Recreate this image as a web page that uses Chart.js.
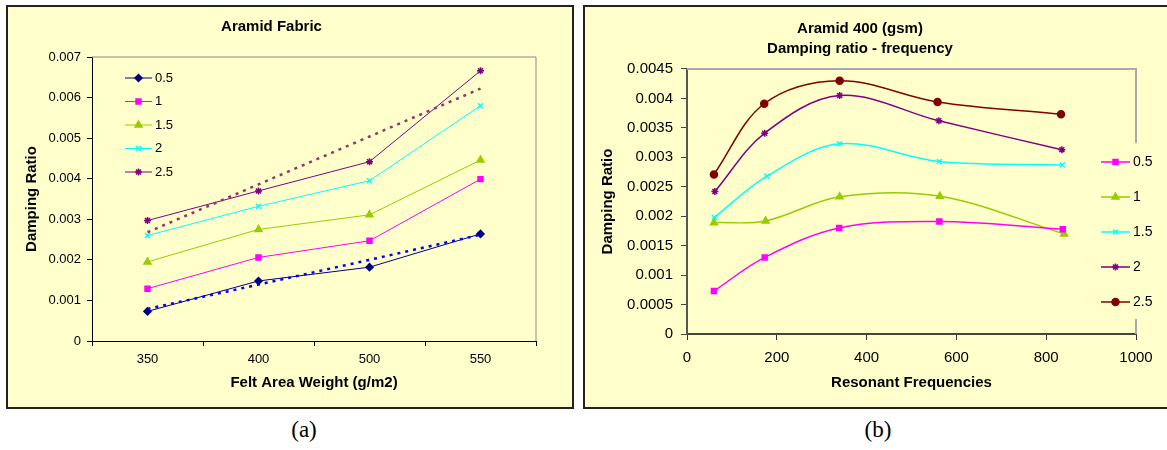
<!DOCTYPE html>
<html>
<head>
<meta charset="utf-8">
<script src="https://cdn.jsdelivr.net/npm/chart.js@4.4.1/dist/chart.umd.min.js"></script>
<style>
  body { margin: 0; background: #fff; width: 1167px; height: 450px; overflow: hidden; position: relative; }
  .panel { position: absolute; top: 5px; height: 404px; box-sizing: border-box; border: 2px solid #222; background: #FFFFCC; }
  canvas { position: absolute; }
  .cap { position: absolute; top: 417px; font-family: 'Liberation Serif', serif; font-size: 23px; width: 60px; text-align: center; }
</style>
</head>
<body>
<div class="panel" style="left:6px; width:568px;"></div>
<div class="panel" style="left:583px; width:600px;"></div>
<canvas id="fabricChart" width="566" height="403" style="left:7px; top:5px;"></canvas>
<canvas id="freqChart" width="583" height="403" style="left:584px; top:5px;"></canvas>
<div class="cap" style="left:274px;">(a)</div>
<div class="cap" style="left:848px;">(b)</div>
<script>
// (a) damping ratio vs felt area weight
const weights = ['350', '400', '500', '550'];
const fab05 = [0.00073, 0.00148, 0.00182, 0.00264];
const fab1 = [0.00129, 0.00206, 0.00247, 0.00399];
const fab15 = [0.00195, 0.00275, 0.00311, 0.00446];
const fab2 = [0.00260, 0.00332, 0.00395, 0.00580];
const fab25 = [0.00297, 0.00370, 0.00442, 0.00666];
// dotted trend lines
const trend05 = [0.00079, 0.00139, 0.00200, 0.00262];
const trend25 = [0.00268, 0.00386, 0.00504, 0.00622];

// (b) damping ratio vs resonant frequency
const freq05 = [60, 173, 339, 562, 837];
const damp05 = [0.00073, 0.00130, 0.00180, 0.00191, 0.00178];
const freq1 = [60, 175, 340, 563, 840];
const damp1 = [0.00189, 0.00192, 0.00233, 0.00234, 0.00170];
const freq15 = [61, 178, 340, 562, 836];
const damp15 = [0.00198, 0.00268, 0.00323, 0.00293, 0.00287];
const freq2 = [62, 173, 340, 561, 835];
const damp2 = [0.00242, 0.00341, 0.00405, 0.00362, 0.00313];
const freq25 = [60, 172, 340, 558, 833];
const damp25 = [0.00271, 0.00391, 0.00430, 0.00394, 0.00373];

Chart.defaults.font.family = "'Liberation Sans', Arial, sans-serif";
Chart.defaults.color = '#000';
Chart.defaults.animation = false;

const bg = '#FFFFCC';
const navy = '#000080', magenta = '#FF00FF', lime = '#99CC00', cyan = '#00FFFF', purple = '#800080', darkRed = '#800000';

function toPairs(xs, ys) {
    return xs.map((x, i) => ({ x: x, y: ys[i] }));
}

function fmtTick(v) {
    return v === 0 ? '0' : String(Number(v.toFixed(5)));
}

// grey border on top and right of the plot area, like Excel
function plotBorder(color, width) {
    return {
        id: 'plotBorder',
        beforeDatasetsDraw(chart) {
            const a = chart.chartArea, ctx = chart.ctx;
            ctx.save();
            ctx.strokeStyle = color;
            ctx.lineWidth = width;
            ctx.beginPath();
            ctx.moveTo(a.left, a.top);
            ctx.lineTo(a.right, a.top);
            ctx.lineTo(a.right, a.bottom);
            ctx.stroke();
            ctx.restore();
        }
    };
}

// hand drawn legend so it can sit where Excel put it
function legendBox(o) {
    return {
        id: 'legendBox',
        afterDraw(chart) {
            const ctx = chart.ctx;
            ctx.save();
            if (o.cover) {
                ctx.fillStyle = bg;
                ctx.fillRect(o.cover[0], o.cover[1], o.cover[2], o.cover[3]);
            }
            let row = 0;
            chart.data.datasets.forEach(ds => {
                if (ds.noLegend) return;
                const y = o.y + row * o.dy;
                ctx.strokeStyle = ds.borderColor;
                ctx.lineWidth = ds.borderWidth;
                ctx.setLineDash([]);
                ctx.beginPath();
                ctx.moveTo(o.x, y);
                ctx.lineTo(o.x + o.len, y);
                ctx.stroke();
                ctx.fillStyle = ds.pointBackgroundColor;
                ctx.strokeStyle = ds.pointBorderColor;
                ctx.lineWidth = ds.pointBorderWidth || 1;
                Chart.helpers.drawPoint(ctx, { pointStyle: ds.pointStyle, radius: ds.pointRadius, rotation: 0, borderWidth: ds.pointBorderWidth || 1 }, o.x + o.len / 2, y);
                ctx.fillStyle = '#000';
                ctx.font = o.size + "px 'Liberation Sans', Arial, sans-serif";
                ctx.textBaseline = 'middle';
                ctx.textAlign = 'left';
                ctx.fillText(ds.label, o.x + o.len + 3, y);
                row++;
            });
            ctx.restore();
        }
    };
}

function series(label, data, color, style, radius, width) {
    return {
        label: label,
        data: data,
        borderColor: color,
        backgroundColor: color,
        borderWidth: width,
        pointStyle: style,
        pointRadius: radius,
        pointBackgroundColor: color,
        pointBorderColor: color,
        pointBorderWidth: 1.5,
        fill: false
    };
}

function trend(data, color) {
    return {
        label: 'trend',
        data: data,
        borderColor: color,
        borderWidth: 2.5,
        borderDash: [3, 5],
        pointRadius: 0,
        fill: false,
        noLegend: true
    };
}

const ctxFabric = document.getElementById('fabricChart').getContext('2d');
const fabricChart = new Chart(ctxFabric, {
    type: 'line',
    data: {
        labels: weights,
        datasets: [
            trend(trend05, '#0000FF'),
            trend(trend25, '#993366'),
            series('0.5', fab05, navy, 'rectRot', 3.5, 1),
            series('1', fab1, magenta, 'rect', 3.5, 1),
            series('1.5', fab15, lime, 'triangle', 4, 1),
            series('2', fab2, cyan, 'crossRot', 3.5, 1),
            series('2.5', fab25, purple, 'star', 3.5, 1)
        ]
    },
    options: {
        responsive: false,
        devicePixelRatio: 1,
        layout: { padding: { left: 0, right: 37, top: 0, bottom: 0 } },
        plugins: {
            legend: { display: false },
            tooltip: { enabled: false },
            title: {
                display: true,
                text: 'Aramid Fabric',
                color: '#000',
                font: { size: 15, weight: 'bold' },
                padding: { top: 13, bottom: 21 }
            }
        },
        scales: {
            x: {
                type: 'category',
                offset: true,
                afterFit: s => { s.height = 67; },
                grid: { offset: true, drawOnChartArea: false, drawTicks: true, tickLength: 5, color: '#000' },
                border: { color: '#000', width: 1 },
                ticks: { font: { size: 13 }, padding: 6, color: '#000' },
                title: { display: true, text: 'Felt Area Weight (g/m2)', font: { size: 15, weight: 'bold' }, padding: { top: 0, bottom: 16 }, color: '#000' }
            },
            y: {
                min: 0,
                max: 0.007,
                afterFit: s => { s.width = 85; },
                grid: { drawOnChartArea: false, drawTicks: true, tickLength: 5, color: '#000' },
                border: { color: '#000', width: 1 },
                ticks: { stepSize: 0.001, font: { size: 13 }, padding: 6, color: '#000', callback: fmtTick },
                title: { display: true, text: 'Damping Ratio', font: { size: 15, weight: 'bold' }, padding: { top: 16, bottom: 0 }, color: '#000' }
            }
        }
    },
    plugins: [plotBorder('#888', 1), legendBox({ x: 118, y: 73, dy: 23.5, len: 27, size: 13 })]
});

const ctxFreq = document.getElementById('freqChart').getContext('2d');
const freqChart = new Chart(ctxFreq, {
    type: 'scatter',
    data: {
        datasets: [
            series('0.5', toPairs(freq05, damp05), magenta, 'rect', 3.5, 1.5),
            series('1', toPairs(freq1, damp1), lime, 'triangle', 4, 1.5),
            series('1.5', toPairs(freq15, damp15), cyan, 'crossRot', 3.5, 1.5),
            series('2', toPairs(freq2, damp2), purple, 'star', 3.5, 1.5),
            series('2.5', toPairs(freq25, damp25), darkRed, 'circle', 3.5, 1.5)
        ].map(d => Object.assign(d, { showLine: true, tension: 0.35 }))
    },
    options: {
        responsive: false,
        devicePixelRatio: 1,
        layout: { padding: { left: 0, right: 31, top: 0, bottom: 0 } },
        plugins: {
            legend: { display: false },
            tooltip: { enabled: false },
            title: {
                display: true,
                text: ['Aramid 400 (gsm)', 'Damping ratio - frequency'],
                color: '#000',
                font: { size: 15, weight: 'bold', lineHeight: 1.333 },
                padding: { top: 14, bottom: 10 }
            }
        },
        scales: {
            x: {
                type: 'linear',
                min: 0,
                max: 1000,
                afterFit: s => { s.height = 74; },
                grid: { drawOnChartArea: false, drawTicks: true, tickLength: 6, color: '#333' },
                border: { color: '#444', width: 2 },
                ticks: { stepSize: 200, font: { size: 15 }, padding: 9, color: '#000', callback: v => String(v) },
                title: { display: true, text: 'Resonant Frequencies', font: { size: 15, weight: 'bold' }, padding: { top: 0, bottom: 16 }, color: '#000' }
            },
            y: {
                min: 0,
                max: 0.0045,
                afterFit: s => { s.width = 103; },
                grid: { drawOnChartArea: false, drawTicks: true, tickLength: 6, color: '#444' },
                border: { color: '#555', width: 2 },
                ticks: { stepSize: 0.0005, font: { size: 15 }, padding: 8, color: '#000', callback: fmtTick },
                title: { display: true, text: 'Damping Ratio', font: { size: 15, weight: 'bold' }, padding: { top: 15, bottom: 0 }, color: '#000' }
            }
        }
    },
    plugins: [plotBorder('#aaa', 2), legendBox({ x: 517, y: 157, dy: 35, len: 29, size: 14, cover: [508, 138, 75, 176] })]
});
</script>
</body>
</html>
